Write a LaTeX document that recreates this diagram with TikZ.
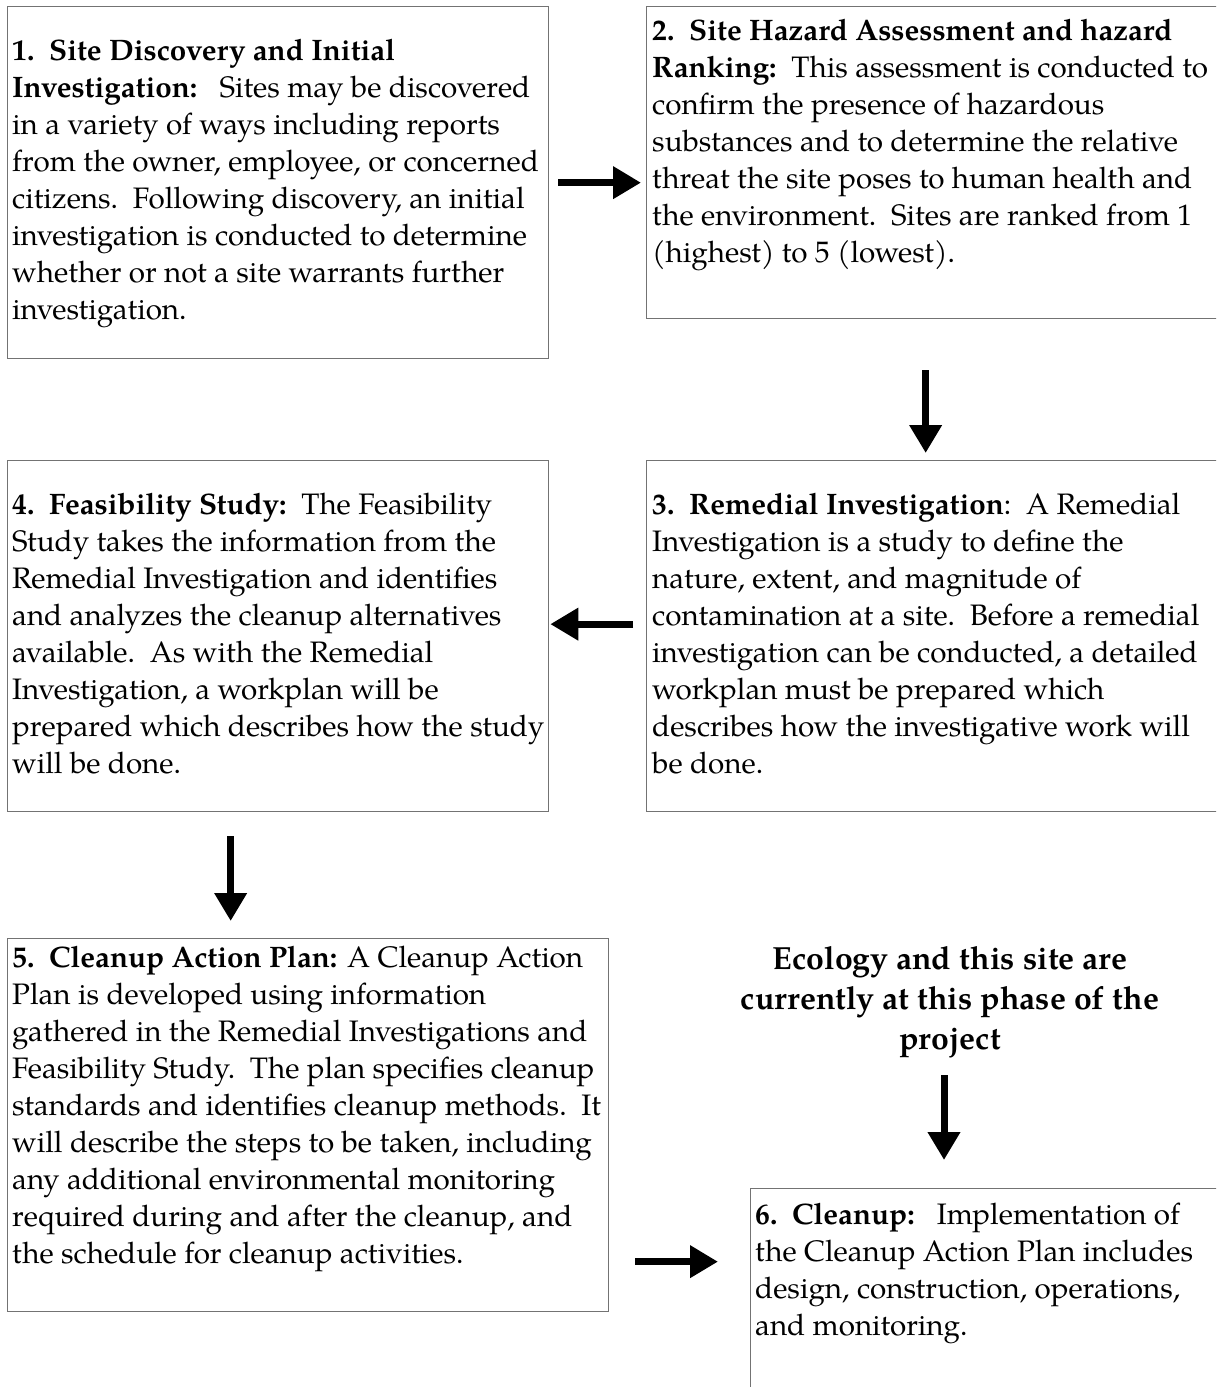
\documentclass[tikz,border=0pt]{standalone}
\usepackage{fontspec}
\setmainfont{texgyrepagella}[Extension=.otf, UprightFont=*-regular, BoldFont=*-bold, ItalicFont=*-italic, BoldItalicFont=*-bolditalic]
\usetikzlibrary{arrows.meta}
\tikzset{
  box/.style={draw=black!55, line width=1.3pt, inner sep=0pt, anchor=north west},
  txt/.style={anchor=base west, inner sep=0pt, align=left, font=\fontsize{29.6}{37}\selectfont},
  ecotxt/.style={anchor=base, inner sep=0pt, align=center, font=\fontsize{32}{40}\selectfont\bfseries},
  arr/.style={line width=7pt, -{Triangle[length=28pt,width=31pt]}}
}
\newcommand{\dsp}{\hspace{0.5em}}
\begin{document}
\begin{tikzpicture}[x=1pt,y=-1pt]
\clip (0,0) rectangle (1216,1387);
\fill[white] (0,0) rectangle (1216,1387);
% boxes
\node[box, minimum width=541pt, minimum height=352pt] (b1) at (7,6) {};
\node[box, minimum width=576pt, minimum height=312pt] (b2) at (646,6) {};
\node[box, minimum width=576pt, minimum height=351pt] (b3) at (646,460) {};
\node[box, minimum width=541pt, minimum height=351pt] (b4) at (7,460) {};
\node[box, minimum width=601pt, minimum height=373pt] (b5) at (7,938) {};
\node[box, minimum width=472pt, minimum height=210pt] (b6) at (750,1188) {};
% texts (anchor = baseline of the last line)
\node[txt] (t1) at (12,319) {\textbf{1.\dsp Site Discovery and Initial}\\
\textbf{Investigation:}\dsp\ Sites may be discovered\\
in a variety of ways including reports\\
from the owner, employee, or concerned\\
citizens.\dsp Following discovery, an initial\\
investigation is conducted to determine\\
whether or not a site warrants further\\
investigation.};
\node[txt] (t2) at (652,262) {\textbf{2.\dsp Site Hazard Assessment and hazard}\\
\textbf{Ranking:}\dsp This assessment is conducted to\\
confirm the presence of hazardous\\
substances and to determine the relative\\
threat the site poses to human health and\\
the environment.\dsp Sites are ranked from 1\\
(highest) to 5 (lowest).};
\node[txt] (t3) at (652,773) {\textbf{3.\dsp Remedial Investigation}:\dsp A Remedial\\
Investigation is a study to define the\\
nature, extent, and magnitude of\\
contamination at a site.\dsp Before a remedial\\
investigation can be conducted, a detailed\\
workplan must be prepared which\\
describes how the investigative work will\\
be done.};
\node[txt] (t4) at (12,773) {\textbf{4.\dsp Feasibility Study:}\dsp The Feasibility\\
Study takes the information from the\\
Remedial Investigation and identifies\\
and analyzes the cleanup alternatives\\
available.\dsp As with the Remedial\\
Investigation, a workplan will be\\
prepared which describes how the study\\
will be done.};
\node[txt] (t5) at (12,1263) {\textbf{5.\dsp Cleanup Action Plan:} A Cleanup Action\\
Plan is developed using information\\
gathered in the Remedial Investigations and\\
Feasibility Study.\dsp The plan specifies cleanup\\
standards and identifies cleanup methods.\dsp It\\
will describe the steps to be taken, including\\
any additional environmental monitoring\\
required during and after the cleanup, and\\
the schedule for cleanup activities.};
\node[txt] (t6) at (755,1335) {\textbf{6.\dsp Cleanup:}\dsp\ Implementation of\\
the Cleanup Action Plan includes\\
design, construction, operations,\\
and monitoring.};
\node[ecotxt] (eco) at (950,1049) {Ecology and this site are\\currently at this phase of the\\project};
% connectors
\coordinate (ecoarr) at (944,1075);
\draw[arr, shorten <=9pt, shorten >=5pt] (b1.east) -- (b1.east -| b2.west);
\draw[arr, shorten <=51pt, shorten >=7pt] ([xshift=-9pt]b2.south) -- ([xshift=-9pt]b2.south |- b3.north);
\draw[arr, shorten <=13pt, shorten >=1pt] ([yshift=12pt]b3.west) -- ([yshift=12pt]b3.west -| b4.east);
\draw[arr, shorten <=24pt, shorten >=17pt] ([xshift=-47.5pt]b4.south) -- ([xshift=-47.5pt]b4.south |- b5.north);
\draw[arr, shorten >=28pt] (ecoarr) -- (ecoarr |- b6.north);
\draw[arr, shorten <=26pt, shorten >=32pt] ([yshift=32pt]b5.east |- b6.west) -- ([yshift=32pt]b6.west);
\end{tikzpicture}
\end{document}
